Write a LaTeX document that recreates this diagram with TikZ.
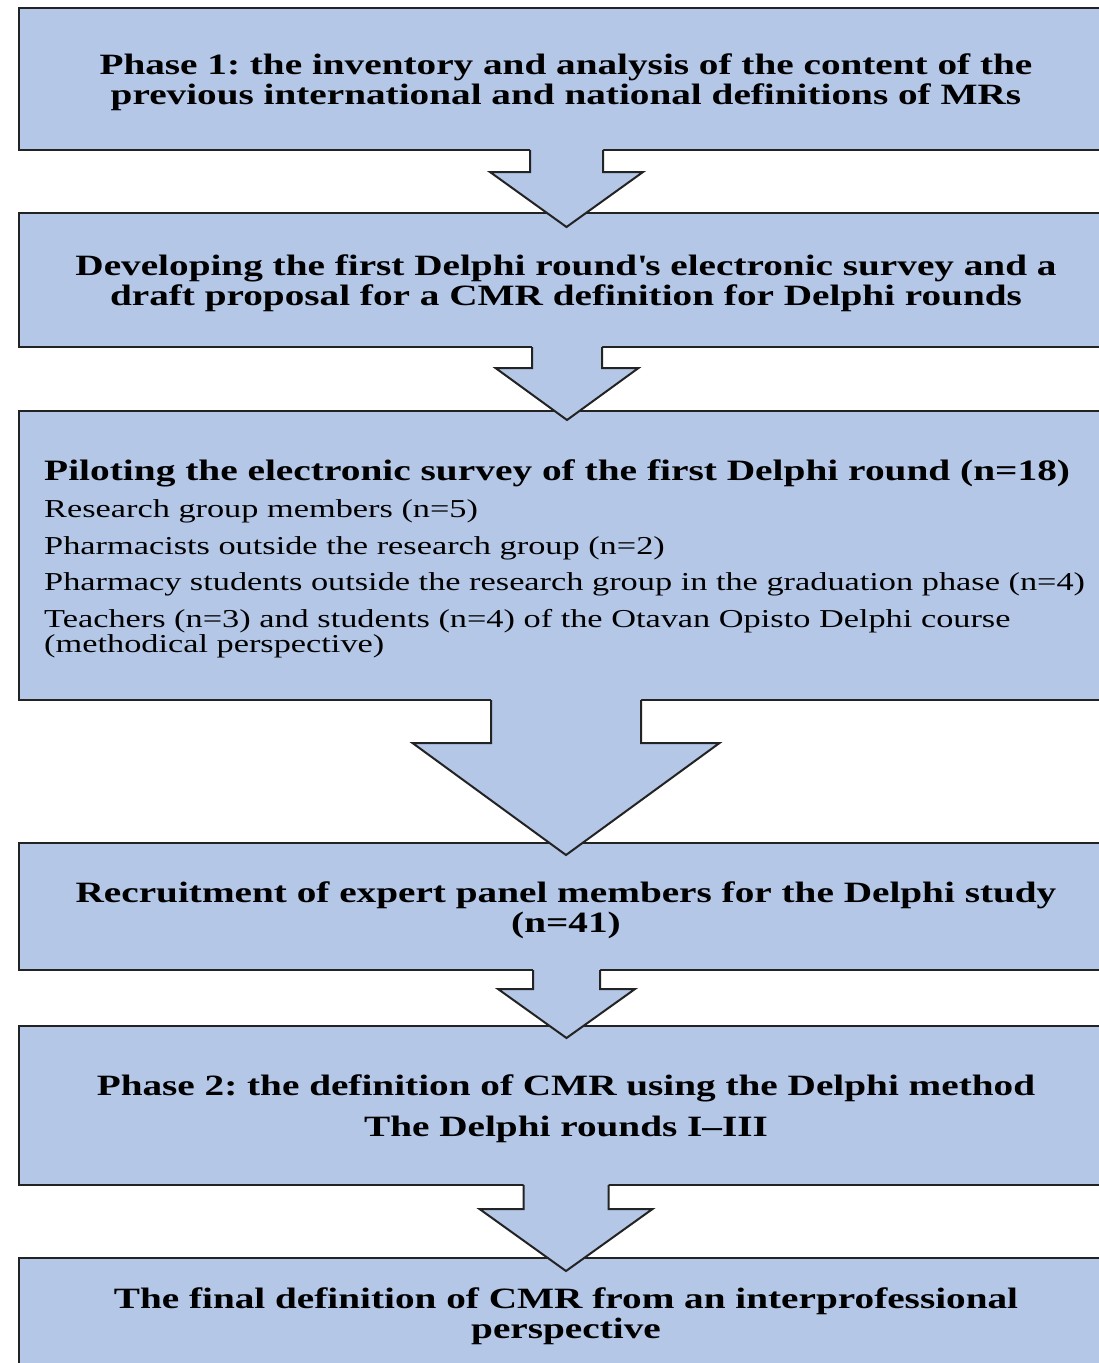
\documentclass[tikz,border=0pt]{standalone}
\usepackage{fontspec}
\setmainfont{Liberation Serif}[FakeStretch=1.33]
\usetikzlibrary{calc}
\definecolor{boxblue}{RGB}{180,199,231}
\definecolor{edgegray}{RGB}{35,35,35}
\tikzset{
  flowbox/.style={draw=edgegray, line width=2pt, fill=boxblue, minimum width=1094pt,
    inner sep=0pt, outer sep=0pt, anchor=north},
  boxtext/.style={inner sep=0pt, align=center,
    font=\frenchspacing\bfseries\fontsize{29.5}{30}\selectfont},
  arrfill/.style={fill=boxblue},
  arrline/.style={draw=edgegray, line width=2pt, line join=miter},
  itemtext/.style={anchor=base west, inner sep=0pt, align=left,
    font=\frenchspacing\fontsize{25.8}{25}\selectfont},
  headtext/.style={anchor=base west, inner sep=0pt,
    font=\frenchspacing\bfseries\fontsize{29.6}{30}\selectfont}
}
% #1 from node, #2 to node, #3 half shaft, #4 shaft length, #5 half head, #6 tip depth below to.north, #7 x shift
\newcommand{\flowarrow}[7]{%
  \path[arrfill] ($(#1.south)+(#7-#3,-1.5)$) -- ($(#1.south)+(#7-#3,#4)$) -- ($(#1.south)+(#7-#5,#4)$)
     -- ($(#2.north)+(#7,#6)$) -- ($(#1.south)+(#7+#5,#4)$) -- ($(#1.south)+(#7+#3,#4)$)
     -- ($(#1.south)+(#7+#3,-1.5)$) -- cycle;
  \draw[arrline] ($(#1.south)+(#7-#3,0)$) -- ($(#1.south)+(#7-#3,#4)$) -- ($(#1.south)+(#7-#5,#4)$)
     -- ($(#2.north)+(#7,#6)$) -- ($(#1.south)+(#7+#5,#4)$) -- ($(#1.south)+(#7+#3,#4)$)
     -- ($(#1.south)+(#7+#3,0)$);
}
\begin{document}
\begin{tikzpicture}[x=1pt,y=-1pt]
\useasboundingbox (0,0) rectangle (1099,1363);
\clip (0,0) rectangle (1099,1363);
\fill[white] (0,0) rectangle (1099,1363);

\node[flowbox, minimum height=142pt] (b1) at (566,8) {};
\node[flowbox, minimum height=134pt] (b2) at (566,213) {};
\node[flowbox, minimum height=289pt] (b3) at (566,411) {};
\node[flowbox, minimum height=127pt] (b4) at (566,843) {};
\node[flowbox, minimum height=159pt] (b5) at (566,1026) {};
\node[flowbox, minimum height=112pt] (b6) at (566,1258) {};

\node[boxtext] (t1) at ($(b1.center)+(0,3)$)
  {Phase 1: the inventory and analysis of the content of the\\previous international and national definitions of MRs};
\node[boxtext] (t2) at ($(b2.center)+(0,3.5)$)
  {Developing the first Delphi round\textquotesingle s electronic survey and a\\draft proposal for a CMR definition for Delphi rounds};
\node[boxtext] (t4) at ($(b4.center)+(0,3.5)$)
  {Recruitment of expert panel members for the Delphi study\\(n=41)};
\node[boxtext] (t5) at ($(b5.center)+(0,3)$)
  {Phase 2: the definition of CMR using the Delphi method\\[11pt]The Delphi rounds I--III};
\node[boxtext] (t6) at ($(b6.center)+(0,2)$)
  {The final definition of CMR from an interprofessional\\perspective};

\node[headtext] (t3a) at ($(b3.north west)+(25,69)$) {Piloting the electronic survey of the first Delphi round (n=18)};
\node[itemtext] (t3b) at ($(b3.north west)+(25,106)$) {Research group members (n=5)};
\node[itemtext] (t3c) at ($(b3.north west)+(25,143)$) {Pharmacists outside the research group (n=2)};
\node[itemtext] (t3d) at ($(b3.north west)+(25,179)$) {Pharmacy students outside the research group in the graduation phase (n=4)};
\node[itemtext] (t3e) at ($(b3.north west)+(25,241)$) {Teachers (n=3) and students (n=4) of the Otavan Opisto Delphi course\\(methodical perspective)};

\flowarrow{b1}{b2}{36.5}{22}{76.5}{14}{0.5}
\flowarrow{b2}{b3}{35}{21}{71.5}{9}{1}
\flowarrow{b3}{b4}{75}{43}{153.5}{12}{0}
\flowarrow{b4}{b5}{33.5}{19}{68.5}{12}{0.5}
\flowarrow{b5}{b6}{42.5}{24}{86.5}{13}{0}
\end{tikzpicture}
\end{document}
